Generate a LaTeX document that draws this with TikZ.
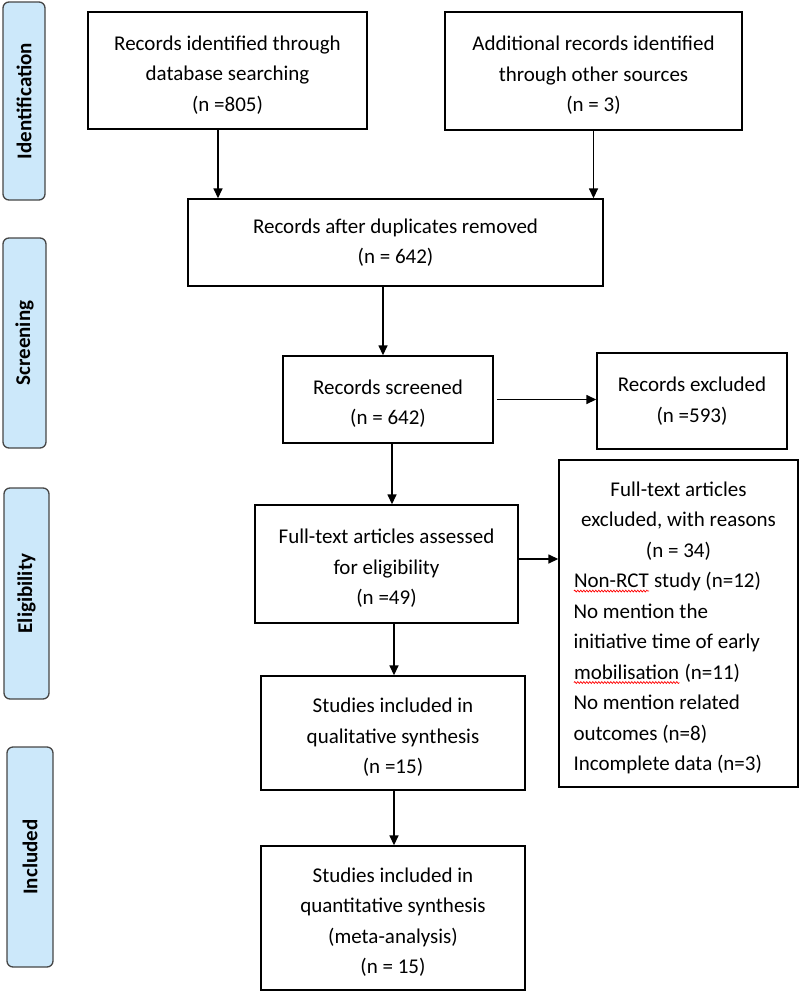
\documentclass[tikz,border=0pt]{standalone}
\usepackage{fontspec}
\setmainfont{Carlito}
\usetikzlibrary{arrows.meta,decorations.pathmorphing}
\newcommand{\redwave}[1]{\tikz[baseline=(w.base)]{\node[draw=none,inner sep=0pt,minimum width=0pt,minimum height=0pt,anchor=base] (w) at (0,0) {#1};
		\draw[red,line width=0.7pt,decorate,decoration={snake,amplitude=0.9pt,segment length=3pt}] ([yshift=-3.5pt]w.base west) -- ([yshift=-3.5pt]w.base east);}}
\newcommand{\midline}[1]{\makebox[210pt]{#1}}
\newcommand{\toproom}{\rule{0pt}{23pt}}
\definecolor{stagefill}{RGB}{204,232,250}
\definecolor{stageline}{RGB}{70,70,70}

\begin{document}
\begin{tikzpicture}[x=1pt,y=-1pt,
	box/.style={draw,line width=1.4pt,align=center,inner sep=0pt,font=\fontsize{21}{30.5}\selectfont},
	stage/.style={draw=stageline,fill=stagefill,line width=1.3pt,rounded corners=6pt,inner sep=0pt,rotate=90,font=\fontsize{21}{24}\selectfont\bfseries},
	arr/.style={line width=1.5pt,-{Triangle[length=10pt,width=9pt]}}]
	\useasboundingbox (0,0) rectangle (800,997);
	
	% stages on the left
	\node[stage,minimum width=198,minimum height=42] (ident) at (24,101) {Identification};
	\node[stage,minimum width=210,minimum height=43] (screening) at (24.5,343) {Screening};
	\node[stage,minimum width=211,minimum height=45] (elig) at (26.5,593.5) {Eligibility};
	\node[stage,minimum width=220,minimum height=46] (incl) at (30,857) {Included};
	
	% boxes
	\node[box,minimum width=279,minimum height=117] (db) at (227.5,70.5) {\toproom Records identified through\\database searching\\(n =805)};
	\node[box,minimum width=297,minimum height=118] (other) at (593.5,71) {\toproom Additional records identified\\through other sources\\(n = 3)};
	\node[box,minimum width=415,minimum height=87] (dup) at (395.5,242.5) {Records after duplicates removed\\(n = 642)};
	\node[box,minimum width=210,minimum height=87] (screen) at (388,399.5) {\toproom Records screened\\(n = 642)};
	\node[box,minimum width=190,minimum height=96] (recex) at (692,401) {Records excluded\\(n =593)};
	\node[box,minimum width=263,minimum height=118] (full) at (386.5,564) {\toproom Full-text articles assessed\\for eligibility\\(n =49)};
	\node[box,align=left,minimum width=239,minimum height=327] (fullex) at (678.5,623.5) {\toproom\midline{Full-text articles}\\\midline{excluded, with reasons}\\\midline{(n = 34)}\\\redwave{Non-RCT} study (n=12)\\No mention the\\initiative time of early\\\redwave{mobilisation} (n=11)\\No mention related\\outcomes (n=8)\\Incomplete data (n=3)};
	\node[box,minimum width=264,minimum height=114] (qual) at (393,733) {\toproom Studies included in\\qualitative synthesis\\(n =15)};
	\node[box,minimum width=264,minimum height=144] (quant) at (393,918) {\toproom Studies included in\\quantitative synthesis\\(meta-analysis)\\(n = 15)};
	
	% arrows
	\draw[arr] ([xshift=-9.5pt]db.south) -- ([xshift=-9.5pt]db.south |- dup.north);
	\draw[arr] (other.south) -- (other.south |- dup.north);
	\draw[arr] ([xshift=-5pt]screen.north |- dup.south) -- ([xshift=-5pt]screen.north);
	\draw[arr] ([xshift=3pt]screen.east) -- (screen.east -| recex.west);
	\draw[arr] ([xshift=4pt]screen.south) -- ([xshift=4pt]screen.south |- full.north);
	\draw[arr] ([yshift=5pt]full.east) -- ([yshift=5pt]full.east -| fullex.west);
	\draw[arr] ([xshift=1pt]qual.north |- full.south) -- ([xshift=1pt]qual.north);
	\draw[arr] ([xshift=1pt]qual.south) -- ([xshift=1pt]quant.north);
\end{tikzpicture}
\end{document}
